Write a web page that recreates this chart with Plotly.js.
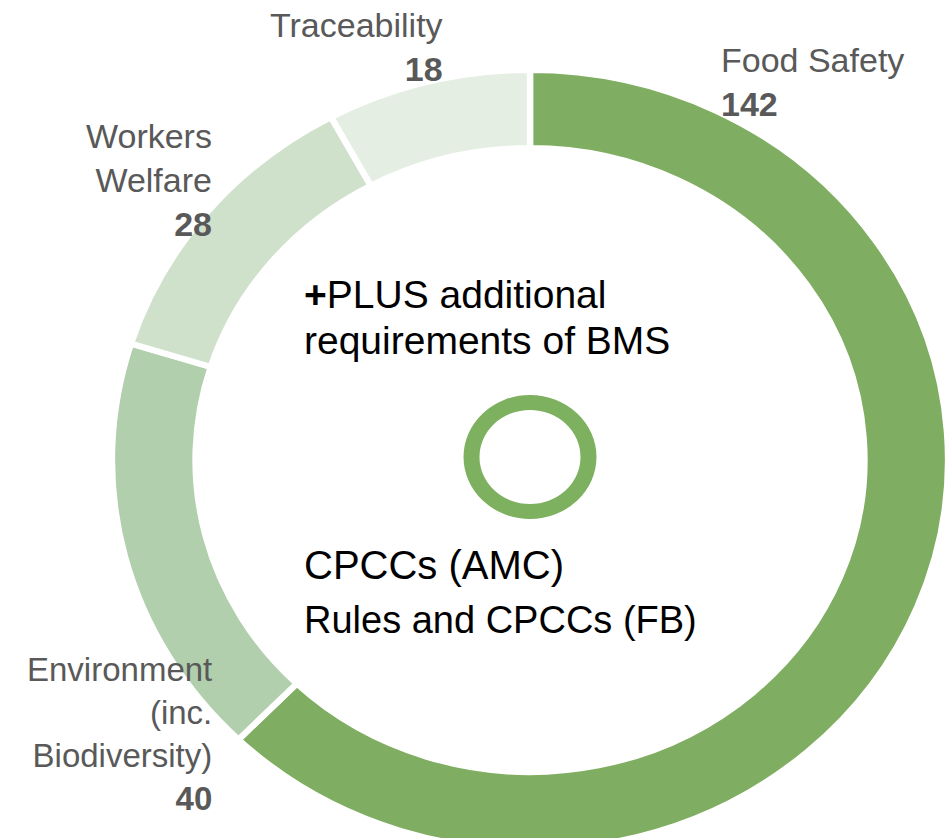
<!DOCTYPE html>
<html>
<head>
<meta charset="utf-8">
<script src="https://cdn.plot.ly/plotly-3.0.1.min.js"></script>
<style>
  html, body { margin: 0; padding: 0; overflow: hidden; background: #ffffff; }
  #chart { width: 950px; height: 900px; }
</style>
</head>
<body>
<div id="chart"></div>
<script>
// ---- data ----
const categories = ["Food Safety", "Environment (inc. Biodiversity)", "Workers Welfare", "Traceability"];
const labelLines = [["Food Safety"], ["Environment", "(inc.", "Biodiversity)"], ["Workers", "Welfare"], ["Traceability"]];
const counts = [142, 40, 28, 18];
const sliceColors = ["#7fad61", "#b1cfac", "#cfe0cb", "#e5eee3"];
const centerLines = ["<b>+</b>PLUS additional", "requirements of BMS"];
const schemeLines = ["CPCCs (AMC)", "Rules and CPCCs (FB)"];

// ---- layout helpers (page pixels -> paper fractions) ----
const W = 950, H = 900;
const px = x => x / W;
const py = y => 1 - y / H;

const FONT = "Liberation Sans, Arial, sans-serif";
const GREY = "#595959";

const cx = 530, cy = 460, R = 390;      // main donut
const rcx = 530, rcy = 457, rr = 62;    // small ring

const donut = {
  type: "pie",
  values: counts,
  labels: categories,
  sort: false,
  direction: "clockwise",
  rotation: 0,
  hole: 0.8,
  textinfo: "none",
  hoverinfo: "label+value",
  marker: { colors: sliceColors, line: { color: "#ffffff", width: 6 } },
  domain: { x: [px(cx - R), px(cx + R)], y: [py(cy + R), py(cy - R)] },
  showlegend: false
};

const ring = {
  type: "pie",
  values: [1],
  labels: ["ring"],
  sort: false,
  hole: 0.76,
  textinfo: "none",
  hoverinfo: "skip",
  marker: { colors: ["#7db05f"], line: { width: 0 } },
  domain: { x: [px(rcx - rr), px(rcx + rr)], y: [py(rcy + rr), py(rcy - rr)] },
  showlegend: false
};

function labelText(i) {
  return labelLines[i].join("<br>") + "<br><b>" + counts[i] + "</b>";
}

const annotations = [
  { x: px(719), y: py(82), xanchor: "left", align: "left", text: labelText(0), size: 34 },
  { x: px(214), y: py(734), xanchor: "right", align: "right", text: labelText(1), size: 33 },
  { x: px(214), y: py(180), xanchor: "right", align: "right", text: labelText(2), size: 34 },
  { x: px(445), y: py(47), xanchor: "right", align: "right", text: labelText(3), size: 34 }
].map(a => {
  const s = a.size; delete a.size;
  return Object.assign(a, {
    xref: "paper", yref: "paper", yanchor: "middle", showarrow: false,
    font: { family: FONT, size: s, color: GREY }
  });
});

function inner(text, yc, size) {
  return {
    xref: "paper", yref: "paper", x: px(302), y: py(yc), xanchor: "left", yanchor: "middle",
    align: "left", showarrow: false, text: text,
    font: { family: FONT, size: size, color: "#000000" }
  };
}
annotations.push(inner(centerLines[0], 295, 39));
annotations.push(inner(centerLines[1], 340, 39));
annotations.push(inner(schemeLines[0], 565, 40));
annotations.push(inner(schemeLines[1], 620, 38));

const layout = {
  width: W, height: H,
  margin: { l: 0, r: 0, t: 0, b: 0 },
  paper_bgcolor: "#ffffff",
  plot_bgcolor: "#ffffff",
  showlegend: false,
  annotations: annotations
};

Plotly.newPlot("chart", [donut, ring], layout, { displayModeBar: false, staticPlot: true }).then(() => {
  // the reference donut is slightly wider than tall: stretch the pie layer horizontally
  const sx = 1.072;
  const g = document.querySelector("#chart .pielayer");
  if (g) g.setAttribute("transform", `translate(${cx},0) scale(${sx},1) translate(${-cx},0)`);
});
</script>
</body>
</html>
